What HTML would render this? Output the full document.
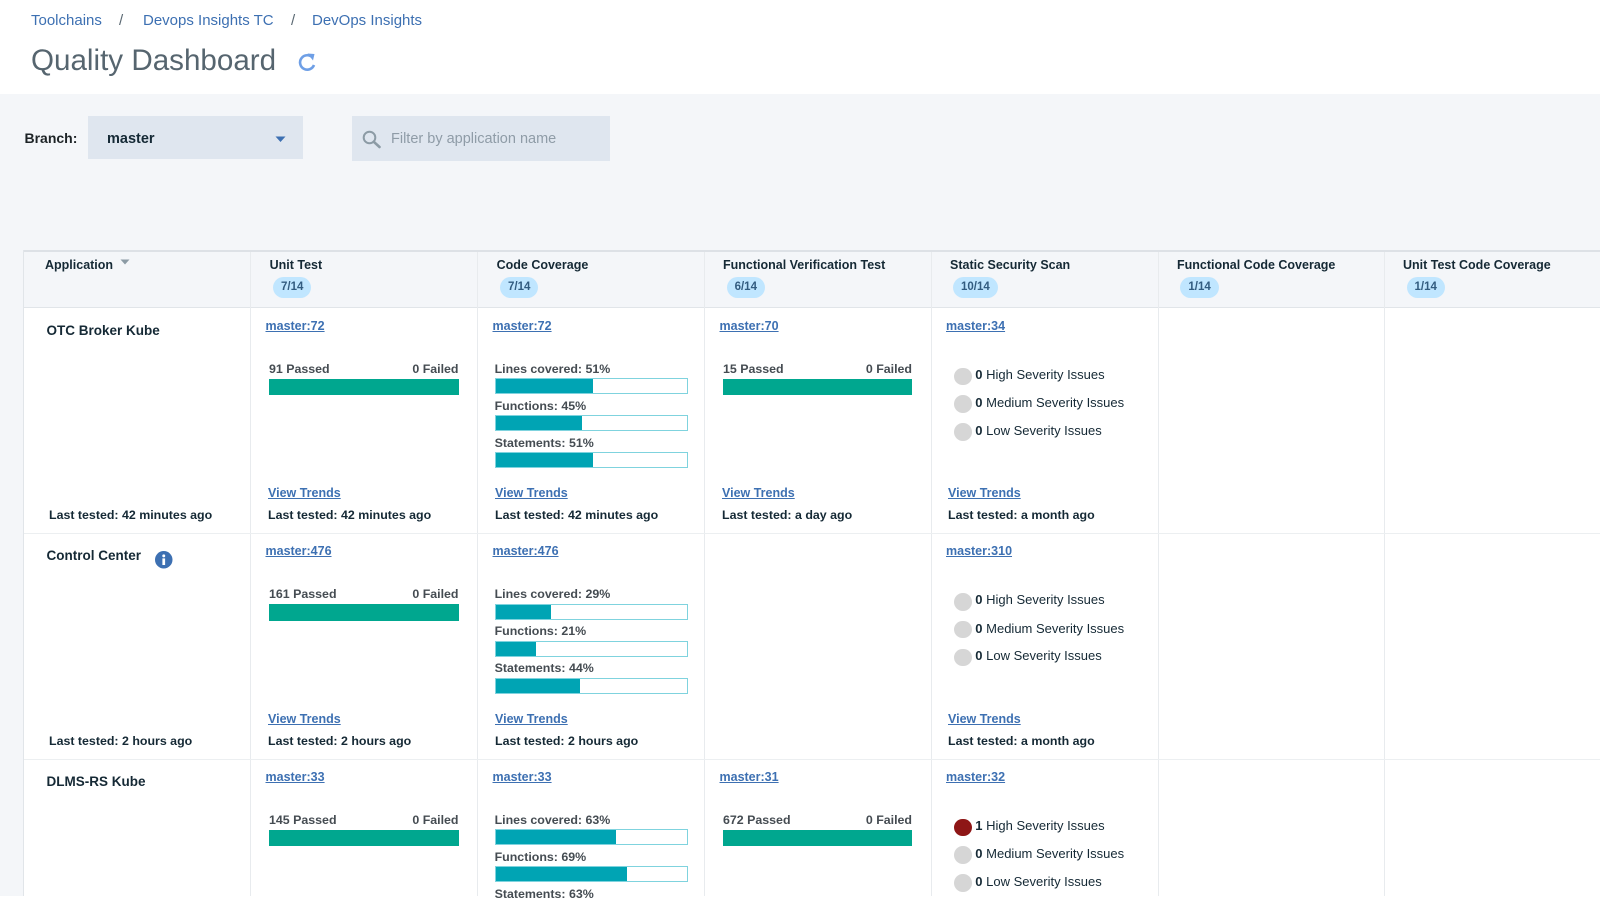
<!DOCTYPE html>
<html><head><meta charset="utf-8">
<style>
html,body{margin:0;padding:0;}
body{width:1600px;height:896px;overflow:hidden;position:relative;background:#fff;font-family:"Liberation Sans",sans-serif;}
.a{position:absolute;}
.t{position:absolute;white-space:nowrap;line-height:1;}
.bc{font-size:15px;color:#3d70b2;top:12.5px;}
.sep{font-size:15px;color:#5a6872;top:12.5px;}
.hd{font-size:12.5px;font-weight:bold;color:#152935;top:258.9px;}
.badge{position:absolute;top:276.7px;height:21.6px;line-height:21.6px;padding:0 8px;border-radius:11px;background:#c0e6ff;color:#325c80;font-size:11.5px;font-weight:bold;white-space:nowrap;}
.nm{font-size:13.5px;font-weight:bold;color:#152935;}
.lk{font-size:12.5px;font-weight:bold;color:#3d70b2;text-decoration:underline;}
.lb{font-size:12.4px;font-weight:bold;color:#454c52;}
.vt{font-size:12.5px;font-weight:bold;color:#3d70b2;text-decoration:underline;}
.lt{font-size:12.4px;font-weight:bold;color:#152935;}
.gbar{position:absolute;height:16.5px;background:#00a78f;}
.cbar{position:absolute;height:14px;width:191px;border:1px solid #7fd3de;background:#fff;}
.cbar i{position:absolute;left:0;top:0;bottom:0;background:#00a4b4;}
.dot{position:absolute;width:17.7px;height:17.7px;border-radius:50%;background:#d6d6d6;}
.iss{font-size:13px;color:#152935;}
.iss b{font-weight:bold;}
.vl{position:absolute;top:252px;width:1px;height:644px;background:#e8ebee;}
.hl{position:absolute;left:24px;width:1576px;height:1px;background:#eceff1;}
</style></head>
<body>
<!-- breadcrumb -->
<div class="t bc" style="left:31px">Toolchains</div>
<div class="t sep" style="left:119px">/</div>
<div class="t bc" style="left:143px">Devops Insights TC</div>
<div class="t sep" style="left:291px">/</div>
<div class="t bc" style="left:312px">DevOps Insights</div>
<!-- title -->
<div class="t" style="left:31px;top:45.5px;font-size:29.6px;color:#56656f;">Quality Dashboard</div>
<svg class="a" style="left:297px;top:51px" width="21" height="22" viewBox="0 0 21 22">
<path d="M15.5 6.5 A7.2 7.2 0 1 0 17 14" fill="none" stroke="#6e9fe6" stroke-width="2.6"/>
<polygon points="10.5,2.5 17.5,3 16,9.5" fill="#6e9fe6"/>
</svg>
<!-- band -->
<div class="a" style="left:0;top:94px;width:1600px;height:802px;background:#f4f6f9"></div>
<div class="t" style="left:24.5px;top:131.4px;font-size:14px;font-weight:bold;color:#1d2326;">Branch:</div>
<div class="a" style="left:88px;top:116px;width:215px;height:43px;background:#dfe6ef"></div>
<div class="t" style="left:107px;top:132px;font-size:14.5px;font-weight:bold;color:#152935;">master</div>
<svg class="a" style="left:275px;top:136px" width="11" height="7" viewBox="0 0 11 7"><polygon points="0.5,0.5 10.5,0.5 5.5,6" fill="#3d70b2"/></svg>
<div class="a" style="left:352px;top:116px;width:258px;height:45px;background:#dfe6ef"></div>
<svg class="a" style="left:362px;top:130px" width="20" height="19" viewBox="0 0 20 19">
<circle cx="7.5" cy="7.5" r="5.8" fill="none" stroke="#8c9ba5" stroke-width="2"/>
<line x1="11.8" y1="11.8" x2="17.5" y2="17" stroke="#8c9ba5" stroke-width="2.6" stroke-linecap="round"/>
</svg>
<div class="t" style="left:391px;top:132px;font-size:14.5px;color:#8f9ca7;">Filter by application name</div>

<!-- table frame -->
<div class="a" style="left:23px;top:250px;width:1577px;height:2px;background:#dde1e6"></div>
<div class="a" style="left:24px;top:252px;width:1576px;height:55px;background:#f4f6f9"></div>
<div class="a" style="left:23px;top:307px;width:1577px;height:1px;background:#e1e5e9"></div>
<div class="a" style="left:24px;top:308px;width:1576px;height:588px;background:#fff"></div>
<div class="a" style="left:23px;top:250px;width:1px;height:646px;background:#e1e5e9"></div>
<div class="vl" style="left:250px"></div>
<div class="vl" style="left:477px"></div>
<div class="vl" style="left:704px"></div>
<div class="vl" style="left:931px"></div>
<div class="vl" style="left:1158px"></div>
<div class="vl" style="left:1384px"></div>
<div class="hl" style="top:533px"></div>
<div class="hl" style="top:759px"></div>

<!-- header -->
<div class="t hd" style="left:45px">Application</div>
<svg class="a" style="left:120px;top:259px" width="10" height="6" viewBox="0 0 10 6"><polygon points="0.5,0.5 9.5,0.5 5,5.5" fill="#8c9ba5"/></svg>
<div class="t hd" style="left:269.6px">Unit Test</div>
<div class="badge" style="left:273px">7/14</div>
<div class="t hd" style="left:496.6px">Code Coverage</div>
<div class="badge" style="left:500px">7/14</div>
<div class="t hd" style="left:723px">Functional Verification Test</div>
<div class="badge" style="left:726.6px">6/14</div>
<div class="t hd" style="left:950px">Static Security Scan</div>
<div class="badge" style="left:953px">10/14</div>
<div class="t hd" style="left:1177px">Functional Code Coverage</div>
<div class="badge" style="left:1180.4px">1/14</div>
<div class="t hd" style="left:1403px">Unit Test Code Coverage</div>
<div class="badge" style="left:1406.5px">1/14</div>

<!-- ROW 1 T=308 -->
<div class="t nm" style="left:46.5px;top:323.8px">OTC Broker Kube</div>
<div class="t lt" style="left:49px;top:509px">Last tested: 42 minutes ago</div>

<div class="t lk" style="left:265.5px;top:319.6px">master:72</div>
<div class="t lb" style="left:269px;top:362.7px">91 Passed</div>
<div class="t lb" style="left:269px;top:362.7px;width:189.5px;text-align:right">0 Failed</div>
<div class="gbar" style="left:269px;top:378.5px;width:189.5px"></div>
<div class="t vt" style="left:268px;top:487.3px">View Trends</div>
<div class="t lt" style="left:268px;top:509px">Last tested: 42 minutes ago</div>

<div class="t lk" style="left:492.5px;top:319.6px">master:72</div>
<div class="t lb" style="left:494.6px;top:362.7px">Lines covered: 51%</div>
<div class="cbar" style="left:494.6px;top:378px"><i style="width:51%"></i></div>
<div class="t lb" style="left:494.6px;top:399.7px">Functions: 45%</div>
<div class="cbar" style="left:494.6px;top:415px"><i style="width:45%"></i></div>
<div class="t lb" style="left:494.6px;top:436.7px">Statements: 51%</div>
<div class="cbar" style="left:494.6px;top:452.3px"><i style="width:51%"></i></div>
<div class="t vt" style="left:495px;top:487.3px">View Trends</div>
<div class="t lt" style="left:495px;top:509px">Last tested: 42 minutes ago</div>

<div class="t lk" style="left:719.5px;top:319.6px">master:70</div>
<div class="t lb" style="left:723px;top:362.7px">15 Passed</div>
<div class="t lb" style="left:723px;top:362.7px;width:189px;text-align:right">0 Failed</div>
<div class="gbar" style="left:723px;top:378.5px;width:189px"></div>
<div class="t vt" style="left:722px;top:487.3px">View Trends</div>
<div class="t lt" style="left:722px;top:509px">Last tested: a day ago</div>

<div class="t lk" style="left:946px;top:319.6px">master:34</div>
<div class="dot" style="left:954.2px;top:367.5px"></div>
<div class="t iss" style="left:975.3px;top:367.9px"><b>0</b> High Severity Issues</div>
<div class="dot" style="left:954.2px;top:395px"></div>
<div class="t iss" style="left:975.3px;top:396.2px"><b>0</b> Medium Severity Issues</div>
<div class="dot" style="left:954.2px;top:423px"></div>
<div class="t iss" style="left:975.3px;top:423.9px"><b>0</b> Low Severity Issues</div>
<div class="t vt" style="left:948px;top:487.3px">View Trends</div>
<div class="t lt" style="left:948px;top:509px">Last tested: a month ago</div>

<!-- ROW 2 T=533.5 -->
<div class="t nm" style="left:46.5px;top:549.3px">Control Center</div>
<svg class="a" style="left:155px;top:551px" width="17.5" height="17.5" viewBox="0 0 18 18">
<circle cx="9" cy="9" r="9" fill="#3d70b2"/>
<circle cx="9" cy="5" r="1.5" fill="#fff"/>
<rect x="7.6" y="7.6" width="2.8" height="6.8" fill="#fff"/>
</svg>
<div class="t lt" style="left:49px;top:734.5px">Last tested: 2 hours ago</div>

<div class="t lk" style="left:265.5px;top:545.1px">master:476</div>
<div class="t lb" style="left:269px;top:588.2px">161 Passed</div>
<div class="t lb" style="left:269px;top:588.2px;width:189.5px;text-align:right">0 Failed</div>
<div class="gbar" style="left:269px;top:604px;width:189.5px"></div>
<div class="t vt" style="left:268px;top:712.8px">View Trends</div>
<div class="t lt" style="left:268px;top:734.5px">Last tested: 2 hours ago</div>

<div class="t lk" style="left:492.5px;top:545.1px">master:476</div>
<div class="t lb" style="left:494.6px;top:588.2px">Lines covered: 29%</div>
<div class="cbar" style="left:494.6px;top:603.5px"><i style="width:29%"></i></div>
<div class="t lb" style="left:494.6px;top:625.2px">Functions: 21%</div>
<div class="cbar" style="left:494.6px;top:640.5px"><i style="width:21%"></i></div>
<div class="t lb" style="left:494.6px;top:662.2px">Statements: 44%</div>
<div class="cbar" style="left:494.6px;top:677.8px"><i style="width:44%"></i></div>
<div class="t vt" style="left:495px;top:712.8px">View Trends</div>
<div class="t lt" style="left:495px;top:734.5px">Last tested: 2 hours ago</div>

<div class="t lk" style="left:946px;top:545.1px">master:310</div>
<div class="dot" style="left:954.2px;top:593px"></div>
<div class="t iss" style="left:975.3px;top:593.4px"><b>0</b> High Severity Issues</div>
<div class="dot" style="left:954.2px;top:620.5px"></div>
<div class="t iss" style="left:975.3px;top:621.7px"><b>0</b> Medium Severity Issues</div>
<div class="dot" style="left:954.2px;top:648.5px"></div>
<div class="t iss" style="left:975.3px;top:649.4px"><b>0</b> Low Severity Issues</div>
<div class="t vt" style="left:948px;top:712.8px">View Trends</div>
<div class="t lt" style="left:948px;top:734.5px">Last tested: a month ago</div>

<!-- ROW 3 T=759 -->
<div class="t nm" style="left:46.5px;top:774.8px">DLMS-RS Kube</div>

<div class="t lk" style="left:265.5px;top:770.6px">master:33</div>
<div class="t lb" style="left:269px;top:813.7px">145 Passed</div>
<div class="t lb" style="left:269px;top:813.7px;width:189.5px;text-align:right">0 Failed</div>
<div class="gbar" style="left:269px;top:829.5px;width:189.5px"></div>

<div class="t lk" style="left:492.5px;top:770.6px">master:33</div>
<div class="t lb" style="left:494.6px;top:813.7px">Lines covered: 63%</div>
<div class="cbar" style="left:494.6px;top:829px"><i style="width:63%"></i></div>
<div class="t lb" style="left:494.6px;top:850.7px">Functions: 69%</div>
<div class="cbar" style="left:494.6px;top:866px"><i style="width:69%"></i></div>
<div class="t lb" style="left:494.6px;top:887.7px">Statements: 63%</div>

<div class="t lk" style="left:719.5px;top:770.6px">master:31</div>
<div class="t lb" style="left:723px;top:813.7px">672 Passed</div>
<div class="t lb" style="left:723px;top:813.7px;width:189px;text-align:right">0 Failed</div>
<div class="gbar" style="left:723px;top:829.5px;width:189px"></div>

<div class="t lk" style="left:946px;top:770.6px">master:32</div>
<div class="dot" style="left:954.2px;top:818.5px;background:#8e1616;"></div>
<div class="t iss" style="left:975.3px;top:818.9px"><b>1</b> High Severity Issues</div>
<div class="dot" style="left:954.2px;top:846px"></div>
<div class="t iss" style="left:975.3px;top:847.2px"><b>0</b> Medium Severity Issues</div>
<div class="dot" style="left:954.2px;top:874px"></div>
<div class="t iss" style="left:975.3px;top:874.9px"><b>0</b> Low Severity Issues</div>
</body></html>
